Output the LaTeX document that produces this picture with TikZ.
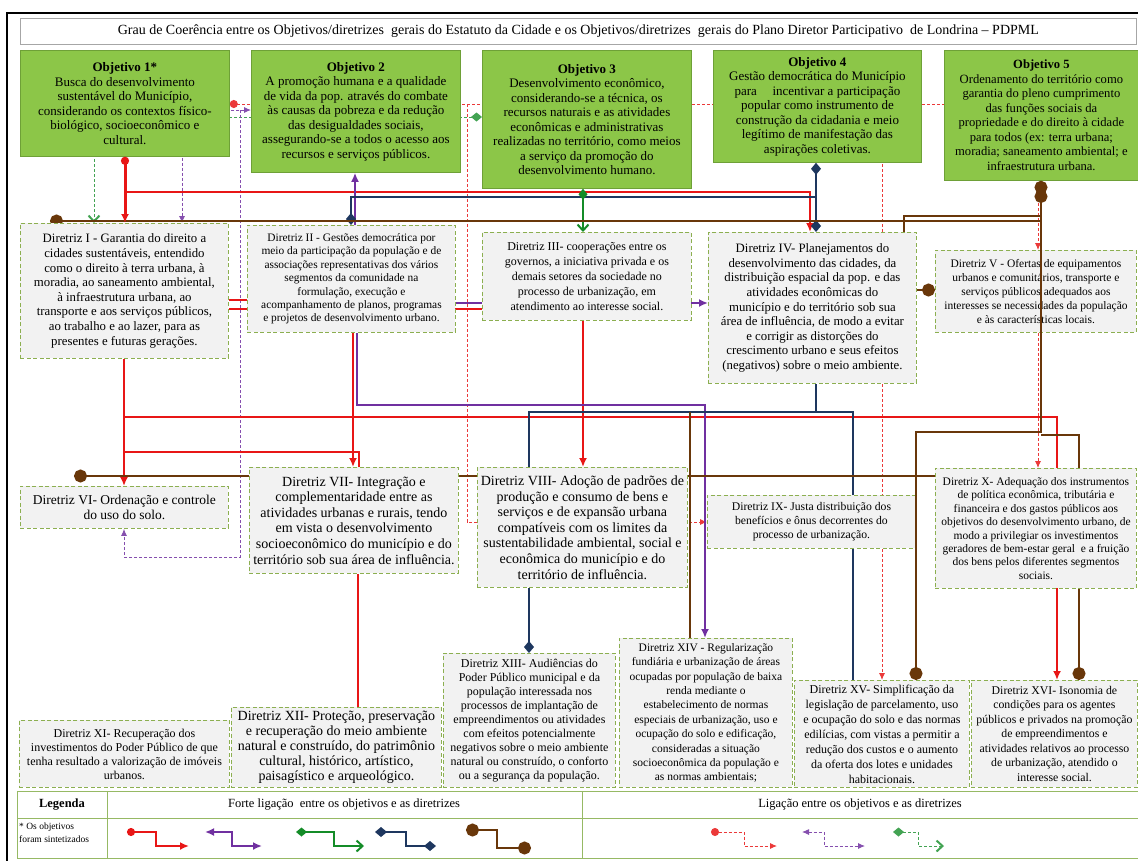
\documentclass[tikz,border=0pt]{standalone}
\usepackage{fontspec}
\setmainfont{Liberation Serif}
\usetikzlibrary{arrows.meta}
\definecolor{cRed}{RGB}{232,22,22}
\definecolor{cPur}{RGB}{112,48,160}
\definecolor{cGrn}{RGB}{20,140,40}
\definecolor{cNav}{RGB}{30,55,95}
\definecolor{cBrn}{RGB}{105,55,10}
\definecolor{objFill}{RGB}{140,198,72}
\definecolor{objLine}{RGB}{110,160,55}
\definecolor{dirFill}{RGB}{242,242,242}
\definecolor{dirLine}{RGB}{140,175,80}
\definecolor{legLine}{RGB}{150,185,100}
\newcommand\fsz[2]{\fontsize{#1}{#2}\selectfont}
\pgfdeclarelayer{bg}
\pgfsetlayers{bg,main}
\tikzset{
 obj/.style={draw=objLine,fill=objFill,line width=0.8pt,anchor=north west,inner sep=1pt,align=center,font=\fsz{13}{14.5}},
 dir/.style={draw=dirLine,fill=dirFill,line width=0.9pt,dash pattern=on 4pt off 2.5pt,anchor=north west,inner sep=1pt,align=center},
 Sr/.style={draw=cRed,line width=1.8pt},
 Sp/.style={draw=cPur,line width=1.8pt},
 Sg/.style={draw=cGrn,line width=1.8pt},
 Sn/.style={draw=cNav,line width=1.8pt},
 Sb/.style={draw=cBrn,line width=2pt},
 Wr/.style={draw=cRed!85,line width=0.9pt,dash pattern=on 3pt off 2pt},
 Wp/.style={draw=cPur!85,line width=0.9pt,dash pattern=on 3pt off 2pt},
 Wg/.style={draw=cGrn!80,line width=0.9pt,dash pattern=on 3pt off 2pt},
 redarr/.tip={Latex[length=9pt,width=8pt]},
 reddot/.tip={Circle[length=8pt]},
 purarr/.tip={Latex[length=9pt,width=8pt]},
 warr/.tip={Latex[length=7pt,width=6pt]},
 grnbarb/.tip={Straight Barb[length=6pt,width=11pt,line width=2pt]},
 grndia/.tip={Diamond[length=11pt,width=9pt]},
 navdia/.tip={Diamond[length=12pt,width=10pt]},
 brncirc/.tip={Circle[length=13pt]},
}
\begin{document}
\begin{tikzpicture}[x=1pt,y=-1pt]
\useasboundingbox (0,0) rectangle (1138,860);
% title
\node[draw=gray!70,fill=white,line width=0.6pt,anchor=north west,minimum width=1116pt,minimum height=26pt,font=\fsz{14}{16}] (title) at (20,18) {Grau de Coerência entre os Objetivos/diretrizes\ \ gerais do Estatuto da Cidade e os Objetivos/diretrizes\ \ gerais do Plano Diretor Participativo\ \ de Londrina – PDPML};
% objectives
\node[obj,minimum width=209pt,minimum height=106pt] (o1) at (20,50) {\textbf{Objetivo 1*}\\Busca do desenvolvimento\\sustentável do Município,\\considerando os contextos físico-\\biológico, socioeconômico e\\cultural.};
\node[obj,minimum width=209pt,minimum height=122pt] (o2) at (251,50) {\textbf{Objetivo 2}\\A promoção humana e a qualidade\\de vida da pop. através do combate\\às causas da pobreza e da redução\\das desigualdades sociais,\\assegurando-se a todos o acesso aos\\recursos e serviços públicos.};
\node[obj,minimum width=209pt,minimum height=138pt] (o3) at (482,50) {\textbf{Objetivo 3}\\Desenvolvimento econômico,\\considerando-se a técnica, os\\recursos naturais e as atividades\\econômicas e administrativas\\realizadas no território, como meios\\a serviço da promoção do\\desenvolvimento humano.};
\node[obj,minimum width=208pt,minimum height=112pt] (o4) at (713,50) {\textbf{Objetivo 4}\\Gestão democrática do Município\\para\hspace{1.2em}incentivar a participação\\popular como instrumento de\\construção da cidadania e meio\\legítimo de manifestação das\\aspirações coletivas.};
\node[obj,minimum width=194pt,minimum height=130pt,font=\fsz{12.6}{14.5}] (o5) at (944,50) {\textbf{Objetivo 5}\\Ordenamento do território como\\garantia do pleno cumprimento\\das funções sociais da\\propriedade e do direito à cidade\\para todos (ex: terra urbana;\\moradia; saneamento ambiental; e\\infraestrutura urbana.};
% diretrizes
\node[dir,minimum width=208pt,minimum height=135pt,font=\fsz{12.8}{14.6}] (d1) at (20,223) {Diretriz I - Garantia do direito a\\cidades sustentáveis, entendido\\como o direito à terra urbana, à\\moradia, ao saneamento ambiental,\\à infraestrutura urbana, ao\\transporte e aos serviços públicos,\\ao trabalho e ao lazer, para as\\presentes e futuras gerações.};
\node[dir,minimum width=208pt,minimum height=107pt,font=\fsz{11.4}{13.4}] (d2) at (247,225) {Diretriz II - Gestões democrática por\\meio da participação da população e de\\associações representativas dos vários\\segmentos da comunidade na\\formulação, execução e\\acompanhamento de planos, programas\\e projetos de desenvolvimento urbano.};
\node[dir,minimum width=209pt,minimum height=88pt,font=\fsz{12}{15}] (d3) at (482,232) {Diretriz III- cooperações entre os\\governos, a iniciativa privada e os\\demais setores da sociedade no\\processo de urbanização, em\\atendimento ao interesse social.};
\node[dir,minimum width=208pt,minimum height=151pt,font=\fsz{12.8}{14.6}] (d4) at (708,232) {Diretriz IV- Planejamentos do\\desenvolvimento das cidades, da\\distribuição espacial da pop. e das\\atividades econômicas do\\município e do território sob sua\\área de influência, de modo a evitar\\e corrigir as distorções do\\crescimento urbano e seus efeitos\\(negativos) sobre o meio ambiente.};
\node[dir,minimum width=201pt,minimum height=82pt,font=\fsz{11.5}{14}] (d5) at (935,250) {Diretriz V - Ofertas de equipamentos\\urbanos e comunitários, transporte e\\serviços públicos adequados aos\\interesses se necessidades da população\\e às características locais.};
\node[dir,minimum width=208pt,minimum height=42pt,font=\fsz{13.5}{15.5}] (d6) at (20,486) {Diretriz VI- Ordenação e controle\\do uso do solo.};
\node[dir,minimum width=209pt,minimum height=106pt,font=\fsz{14}{15.6}] (d7) at (249,467) {Diretriz VII- Integração e\\complementaridade entre as\\atividades urbanas e rurais, tendo\\em vista o desenvolvimento\\socioeconômico do município e do\\território sob sua área de influência.};
\node[dir,minimum width=210pt,minimum height=120pt,font=\fsz{14}{15.6}] (d8) at (477,467) {Diretriz VIII- Adoção de padrões de\\produção e consumo de bens e\\serviços e de expansão urbana\\compatíveis com os limites da\\sustentabilidade ambiental, social e\\econômica do município e do\\território de influência.};
\node[dir,minimum width=208pt,minimum height=53pt,font=\fsz{11.7}{14}] (d9) at (707,495) {Diretriz IX- Justa distribuição dos\\benefícios e ônus decorrentes do\\processo de urbanização.};
\node[dir,minimum width=201pt,minimum height=120pt,font=\fsz{11.5}{13.4}] (d10) at (935,468) {Diretriz X- Adequação dos instrumentos\\de política econômica, tributária e\\financeira e dos gastos públicos aos\\objetivos do desenvolvimento urbano, de\\modo a privilegiar os investimentos\\geradores de bem-estar geral\ \ e a fruição\\dos bens pelos diferentes segmentos\\sociais.};
\node[dir,minimum width=210pt,minimum height=67pt,font=\fsz{12}{14}] (d11) at (19,720) {Diretriz XI- Recuperação dos\\investimentos do Poder Público de que\\tenha resultado a valorização de imóveis\\urbanos.};
\node[dir,minimum width=210pt,minimum height=80pt,font=\fsz{14}{15}] (d12) at (231,707) {Diretriz XII- Proteção, preservação\\e recuperação do meio ambiente\\natural e construído, do patrimônio\\cultural, histórico, artístico,\\paisagístico e arqueológico.};
\node[dir,minimum width=172pt,minimum height=134pt,font=\fsz{12}{14}] (d13) at (443,653) {Diretriz XIII- Audiências do\\Poder Público municipal e da\\população interessada nos\\processos de implantação de\\empreendimentos ou atividades\\com efeitos potencialmente\\negativos sobre o meio ambiente\\natural ou construído, o conforto\\ou a segurança da população.};
\node[dir,minimum width=173pt,minimum height=149pt,font=\fsz{11.5}{14.4}] (d14) at (619,638) {Diretriz XIV - Regularização\\fundiária e urbanização de áreas\\ocupadas por população de baixa\\renda mediante o\\estabelecimento de normas\\especiais de urbanização, uso e\\ocupação do solo e edificação,\\consideradas a situação\\socioeconômica da população e\\as normas ambientais;};
\node[dir,minimum width=175pt,minimum height=107pt,font=\fsz{12}{15}] (d15) at (794,680) {Diretriz XV- Simplificação da\\legislação de parcelamento, uso\\e ocupação do solo e das normas\\edilícias, com vistas a permitir a\\redução dos custos e o aumento\\da oferta dos lotes e unidades\\habitacionais.};
\node[dir,minimum width=166pt,minimum height=107pt,font=\fsz{11.8}{14.5}] (d16) at (971,680) {Diretriz XVI- Isonomia de\\condições para os agentes\\públicos e privados na promoção\\de empreendimentos e\\atividades relativos ao processo\\de urbanização, atendido o\\interesse social.};
% connectors behind boxes
\begin{pgfonlayer}{bg}
\draw[Wr, reddot-warr] (o1.east|-0,104) -- (467,104) -- (467,522) -- (d9.west|-0,522);
\draw[Wr, -warr] (467,104) -- (882,104) -- (882,0|-d15.north);
\draw[Wr, -warr] (882,104) -- (1038,104) -- (1038,0|-d5.north);
\draw[Wr, -warr] (1038,0|-d5.south) -- (1038,0|-d10.north);
\draw[Wg, grndia-grnbarb] (o3.west|-0,117) -- (94,117) -- (94,0|-d1.north);
\draw[Wp, warr-warr] (o2.west|-0,110) -- (182,110) -- (182,0|-d1.north);
\draw[Wp, -warr] (240,110) -- (240,557) -- (124,557) -- (124,0|-d6.south);
\draw[Sr, -redarr] (125,192) -- (810,192) -- (810,0|-d4.north);
\draw[Sr, -redarr] (124,0|-d1.south) -- (124,0|-d6.north);
\draw[Sr, -redarr] (124,417) -- (1057,417) -- (1057,0|-d16.north);
\draw[Sr] (124,452) -- (359,452) -- (359,0|-d7.north);
\draw[Sr] (d1.east|-0,300) -- (d2.west|-0,300);
\draw[Sr] (d1.east|-0,309) -- (d3.west|-0,309);
\draw[Sr, -redarr] (353,0|-d2.south) -- (353,0|-d7.north);
\draw[Sr, -redarr] (583,0|-d3.south) -- (583,0|-d8.north);
\draw[Sr] (358,0|-d7.south) -- (358,0|-d12.north);
\draw[Sp, -purarr] (355,0|-d2.north) -- (355,0|-o2.south);
\draw[Sp, -purarr] (357,0|-d2.south) -- (357,405) -- (705,405) -- (705,0|-d14.north);
\draw[Sp, -purarr] (d2.east|-0,303) -- (d4.west|-0,303);
\draw[Sn, navdia-navdia] (816,0|-o4.south) -- (816,0|-d4.north);
\draw[Sn, -navdia] (816,197) -- (351,197) -- (351,0|-d2.north);
\draw[Sn] (816,0|-d4.south) -- (816,412) -- (529,412) -- (529,0|-d8.north);
\draw[Sn, -navdia] (529,0|-d8.south) -- (529,0|-d13.north);
\draw[Sn] (816,412) -- (853,412) -- (853,0|-d15.north);
\draw[Sg, grndia-grnbarb] (583,0|-o3.south) -- (583,0|-d3.north);
\draw[Sb, brncirc-] (50,221) -- (1041,221);
\draw[Sb] (1041,216) -- (904,216) -- (904,0|-d4.north);
\draw[Sb, -brncirc] (d4.east|-0,290) -- (d5.west|-0,290);
\draw[Sb, brncirc-] (74,476) -- (d10.west|-0,476);
\draw[Sb] (690,412) -- (690,0|-d14.north);
\draw[Sb, -brncirc] (1041,435) -- (1079,435) -- (1079,0|-d16.north);
\end{pgfonlayer}
% connectors drawn over boxes
\draw[Sr, line width=3pt, reddot-redarr] (125,0|-o1.south) -- (125,0|-d1.north);
\draw[Sb, brncirc-brncirc] (1041,0|-o5.south) -- (1041,432) -- (916,432) -- (916,0|-d15.north);
\draw[Sb, brncirc-] (1041,190) -- (1041,205);
% legend
\draw[legLine, line width=0.8pt] (17,791) rectangle (1145,858);
\draw[legLine, line width=0.8pt] (17,818) -- (1145,818);
\draw[legLine, line width=0.8pt] (107,791) -- (107,858);
\draw[legLine, line width=0.8pt] (582,791) -- (582,858);
\node[font=\fsz{12.5}{14}] (legA) at (62,804.5) {\textbf{Legenda}};
\node[font=\fsz{12.5}{14}] (legB) at (344,804.5) {Forte ligação\ \ entre os objetivos e as diretrizes};
\node[font=\fsz{12.5}{14}] (legC) at (860,804.5) {Ligação entre os objetivos e as diretrizes};
\node[font=\fsz{9.5}{13},anchor=north west,align=left,inner sep=1pt] (legD) at (18,822) {* Os objetivos\\foram sintetizados};
\draw[Sr, reddot-redarr] (127,832) -- (156,832) -- (156,846) -- (189,846);
\draw[Sp, purarr-purarr] (205,832) -- (232,832) -- (232,846) -- (262,846);
\draw[Sg, grndia-grnbarb] (296,832) -- (334,832) -- (334,846) -- (364,846);
\draw[Sn, navdia-navdia] (375,832) -- (406,832) -- (406,846) -- (436,846);
\draw[Sb, brncirc-brncirc] (466,830) -- (497,830) -- (497,848) -- (531,848);
\draw[Wr, reddot-warr] (711,832) -- (744,832) -- (744,846) -- (777,846);
\draw[Wp, warr-warr] (802,832) -- (824,832) -- (824,846) -- (865,846);
\draw[Wg, grndia-grnbarb] (893,832) -- (918,832) -- (918,846) -- (944,846);
% frame
\draw[line width=2pt] (7,875) -- (7,13) -- (1150,13);
\end{tikzpicture}
\end{document}
